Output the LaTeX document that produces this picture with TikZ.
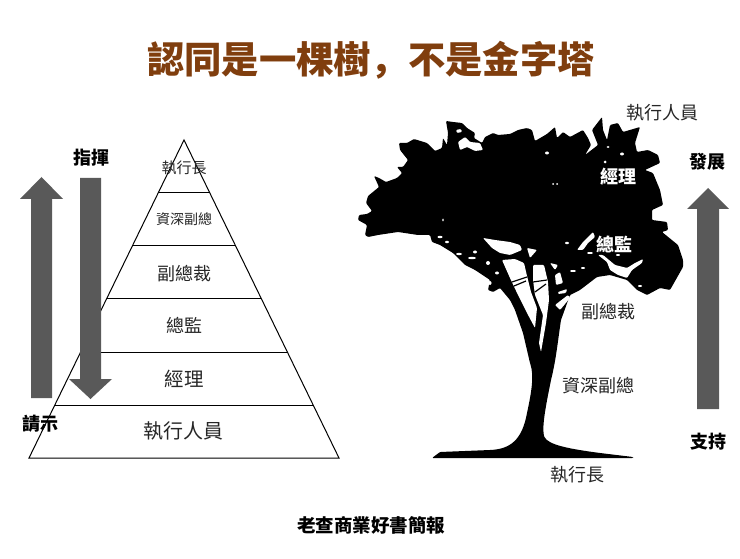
\documentclass[tikz,border=0pt]{standalone}
\usepackage{fontspec}
\setmainfont{Noto Sans CJK TC}
\newfontfamily\scfont{Noto Sans CJK SC}
\usepackage{xcolor}
\definecolor{titlebrown}{RGB}{128,62,14}
\definecolor{arrowgray}{RGB}{89,89,89}
\definecolor{labelgray}{RGB}{38,38,38}
\tikzset{
  head/.style={font=\bfseries\fontsize{18}{18}\selectfont,text=black,inner sep=0pt},
  lab/.style={font=\fontsize{#1}{#1}\selectfont,text=labelgray,inner sep=0pt},
  whitelab/.style={font=\bfseries\fontsize{18}{18}\selectfont,text=white,inner sep=0pt},
  bigarrow/.style={fill=arrowgray},
  gap/.style={fill=white,rounded corners=1pt}
}
\begin{document}
\begin{tikzpicture}[x=1pt,y=-1pt]
\useasboundingbox (0,0) rectangle (740,559);
% title
\node[font=\bfseries\fontsize{37.3}{37.3}\selectfont,text=titlebrown,inner sep=0pt] (title) at (371,60) {認同是一棵樹{\scfont ，}不是金字塔};
% pyramid
\draw[line width=1pt,line join=miter] (184,140)--(339,458)--(29,458)--cycle;
\foreach \y in {193,246,299,352,405}{
  \pgfmathsetmacro{\dx}{(\y-140)*0.4874}
  \draw[line width=1pt] (184-\dx,\y)--(184+\dx,\y);
}
\node[lab=15] (ceo) at (184,167.5) {執行長};
\node[lab=14] (svp) at (184,219.5) {資深副總};
\node[lab=18] (vp) at (184,273.5) {副總裁};
\node[lab=18] (dir) at (184,325.5) {總監};
\node[lab=19.5] (mgr) at (184,378.5) {經理};
\node[lab=20] (staff) at (183.5,430.5) {執行人員};
% arrows
\fill[bigarrow] (31,398)--(31,199)--(20,199)--(41.5,177)--(63,199)--(52,199)--(52,398)--cycle;
\fill[bigarrow] (80,178)--(80,379)--(69,379)--(90.5,399)--(112,379)--(101,379)--(101,178)--cycle;
\fill[bigarrow] (697,409)--(697,209)--(687,209)--(708,188)--(729,209)--(719,209)--(719,409)--cycle;
\node[head] (command) at (91,157.5) {指揮};
\node[head] (report) at (41,423.5) {請示};
\node[head] (grow) at (707,161.5) {發展};
\node[head] (support) at (708,441.5) {支持};
% tree
\fill[rounded corners=1pt] (365,235)--(367,225)--(358,220)--(359,215)--(367,214)--(372,211)--(366,203)--(368,196)
 --(379,187)--(374,176)--(379,178)--(386,182)--(397,178)--(402,173)--(397,167)--(403,167)--(408,160)--(400,150)
 --(399,143)--(407,143)--(414,139)--(427,143)--(435,151)--(442,148)--(443,138)--(447,145)--(448,133)--(446,121)
 --(453,122)--(462,123)--(467,128)--(475,133)--(474,138)--(482,143)--(485,137)--(493,133)--(498,135)--(510,134)
 --(518,130)--(527,128)--(532,130)--(535,141)--(547,134)--(555,127)--(557,138)--(563,132)--(570,137)--(583,130)
 --(588,138)--(591,145)--(585,155)--(598,145)--(592,130)--(602,117)--(603,130)--(607,140)--(610,125)--(618,123)
 --(623,132)--(640,127)--(635,143)--(637,152)--(648,150)--(658,155)--(660,163)--(645,170)--(653,173)--(660,190)
 --(663,205)--(652,210)--(652,220)--(667,222)--(668,230)--(662,232)--(678,245)--(683,260)--(683,267)--(670,290)
 --(660,288)--(647,295)--(637,290)--(627,280)--(610,275)--(597,277)--(580,290)--(570,295)--(561,320)
 .. controls (558,340) and (556,360) .. (551,380) .. controls (546,405) and (542,425) .. (544,436)
 .. controls (548,445) and (570,449) .. (600,453)--(633,457)--(633,458)--(432,458)--(440,452)--(490,450)
 .. controls (510,449) and (522,440) .. (527,413) .. controls (532,390) and (534,375) .. (530,363)
 --(523,333)--(515,310)--(510,300)--(500,288)
 --(493,292)--(488,290)--(490,280)--(475,270)--(465,265)--(453,253)--(440,245)--(432,242)--(430,235)--(418,235)
 --(398,232)--(378,235)--(368,237)--cycle;
% gaps in the branches
\fill[gap] (502,260)--(515,259)--(524,263)--(527,276)--(531,292)--(537,308)--(535,328)--(527,313)--(518,295)--(510,278)--cycle;
\fill[gap] (533,265)--(544,265)--(548,282)--(549,300)--(546,323)--(541,352)--(539,343)--(543,315)--(535,295)--(533,280)--cycle;
\fill[gap] (555,275)--(560,272)--(563,283)--(556,285)--cycle;
\fill[gap] (558,292)--(567,289)--(566,293)--(558,294)--cycle;
\fill[gap] (555,305)--(568,295)--(570,298)--(560,310)--cycle;
\fill[gap] (483,238)--(495,240)--(510,242)--(520,245)--(522,250)--(510,255)--(500,253)--(492,248)--cycle;
\fill[gap] (527,248)--(537,250)--(530,258)--cycle;
\fill[gap] (550,263)--(558,265)--(555,270)--cycle;
\fill[gap] (458,142)--(465,137)--(470,142)--(480,143)--(483,150)--(475,151)--(467,147)--(460,150)--cycle;
\fill[gap] (456,130)--(461,129)--(462,132)--(457,133)--cycle;
\fill[gap] (577,250)--(583,242)--(593,232)--(595,237)--(588,243)--(583,250)--cycle;
\fill[gap] (598,255)--(603,255)--(615,265)--(627,268)--(635,263)--(643,259)--(642,263)--(632,270)--(627,278)--(618,275)--(610,270)--(607,262)--cycle;
\draw[line width=1.2pt] (512,282)--(527,277) (514,286)--(526,281) (533,282)--(547,280) (535,292)--(546,284);
\foreach \px/\py/\rx/\ry in {440/237/2.5/1.2,447/242/2/1.2,459/254/3/1.2,472/258/4/1.2,475/252/2/1.5,488/263/2/2,
  497/273/2/1.5,490/283/1.5/2,443/220/.8/1.5,547/153/2/1.5,553/184/1/1,557/184/1/1,622/154/2/1.5,605/162/1.5/1.5,
  608/147/1.5/1,567/243/2/1.2,618/255/2/1,573/271/3/1,583/268/2/1,640/286/2/1,590/253/3/1}{
  \fill[white] (\px,\py) ellipse[x radius=\rx,y radius=\ry];
}
\node[whitelab] (treemgr) at (618,176.5) {經理};
\node[whitelab] (treedir) at (614,244.5) {總監};
\node[lab=18] (treestaff) at (662,112.5) {執行人員};
\node[lab=18] (treevp) at (608,311.5) {副總裁};
\node[lab=18] (treesvp) at (598,385.5) {資深副總};
\node[lab=18] (treeceo) at (577,474.5) {執行長};
% footer
\node[font=\bfseries\fontsize{18.5}{18.5}\selectfont,text=black,inner sep=0pt] (footer) at (371,525.5) {老查商業好書簡報};
\end{tikzpicture}
\end{document}
